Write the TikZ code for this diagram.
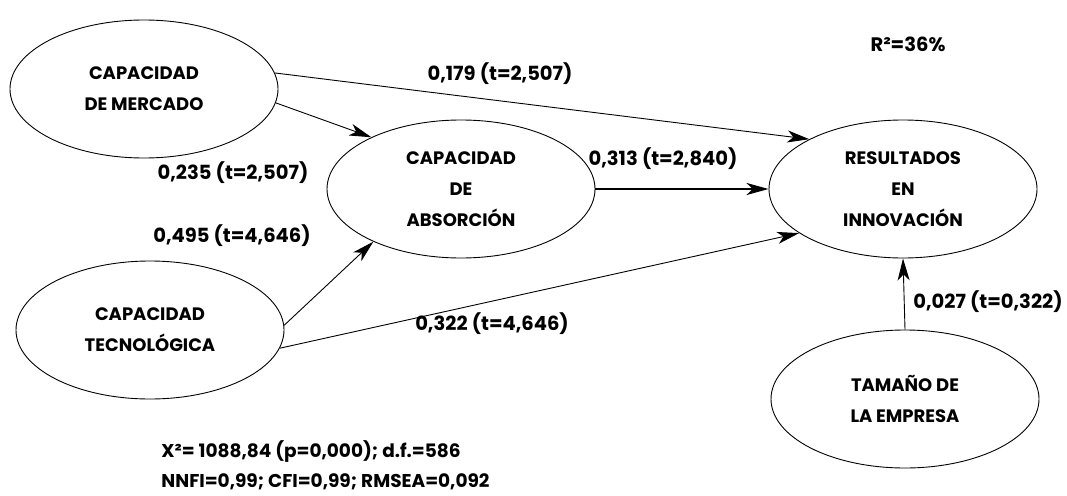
\documentclass[tikz,border=0pt]{standalone}
\usepackage{fontspec}
\setmainfont{Poppins}
\usetikzlibrary{shapes.geometric,arrows.meta}

\begin{document}
\begin{tikzpicture}[x=1pt,y=-1pt,
  every path/.style={>={Stealth[length=22pt,width=12pt,inset=6pt]},line width=0.9pt},
  every node/.style={font=\bfseries\fontsize{18}{31}\selectfont},
  var/.style={draw,ellipse,minimum width=268pt,minimum height=138pt,inner sep=0pt,align=center},
  coef/.style={draw=none,inner sep=1pt,font=\bfseries\fontsize{19.5}{24}\selectfont}]
\useasboundingbox (0,0) rectangle (1067,495);
\node[var] (cm)  at (144,89)  { CAPACIDAD\\DE MERCADO };
\node[var] (abs) at (461,189) { CAPACIDAD\\DE\\ABSORCIÓN };
\node[var] (res) at (903,189) { RESULTADOS\\EN\\INNOVACIÓN };
\node[var] (tec) at (150,330) { CAPACIDAD\\TECNOLÓGICA };
\node[var] (tam) at (905,399) { TAMAÑO DE\\LA EMPRESA };
\node[coef] (c1) at (500,74)  { 0,179 (t=2,507) };
\node[coef] (c2) at (233,173) { 0,235 (t=2,507) };
\node[coef] (c3) at (663,159) { 0,313 (t=2,840) };
\node[coef] (c4) at (232,236) { 0,495 (t=4,646) };
\node[coef] (c5) at (492,324) { 0,322 (t=4,646) };
\node[coef] (c6) at (988,302) { 0,027 (t=0,322) };
\node[coef] (r2) at (908,44)  { R²=36\% };
\node[coef,inner sep=0pt,anchor=west,align=left,font=\bfseries\fontsize{18.5}{30}\selectfont] (fit) at (161,465)
  { X²= 1088,84 (p=0,000); d.f.=586\\NNFI=0,99; CFI=0,99; RMSEA=0,092 };
\draw[->]                 (cm.7)    -- (res.152);
\draw[->]                 (cm.-6)   -- (abs.150);
\draw[->,line width=2pt]  (abs.east) -- (res.west);
\draw[->]                 (tec.2)   -- (abs.211);
\draw[->]                 (tec.-8)  -- (res.203);
\draw[->]                 (tam.north) -- (res.south);
\end{tikzpicture}
\end{document}
